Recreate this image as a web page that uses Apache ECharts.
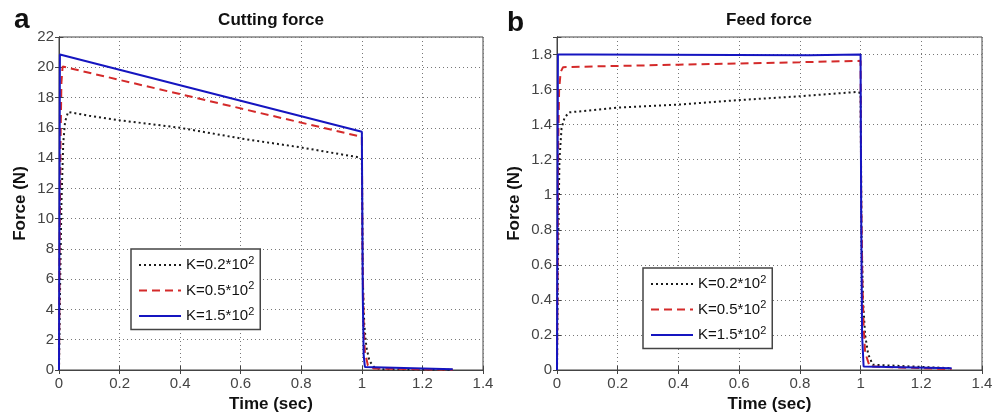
<!DOCTYPE html>
<html>
<head>
<meta charset="utf-8">
<script src="https://cdn.jsdelivr.net/npm/echarts@6/dist/echarts.min.js"></script>
<style>
html,body{margin:0;padding:0;background:#fff;}
#main{width:1005px;height:412px;}
</style>
</head>
<body>
<div id="main"></div>
<script>
// ---------- data ----------
const seriesNames = ['K=0.2*10^2', 'K=0.5*10^2', 'K=1.5*10^2'];
const xTicks = [0, 0.2, 0.4, 0.6, 0.8, 1, 1.2, 1.4];
const cutYTicks = [0, 2, 4, 6, 8, 10, 12, 14, 16, 18, 20, 22];
const feedYTicks = [0, 0.2, 0.4, 0.6, 0.8, 1, 1.2, 1.4, 1.6, 1.8];

// Cutting force (a)
const cutT_K02 = [0, 0.004, 0.008, 0.014, 0.02, 0.03, 0.1, 0.2, 0.4, 0.6, 0.8, 0.99, 1.0, 1.003, 1.008, 1.015, 1.025, 1.04, 1.06, 1.3];
const cutF_K02 = [0, 6, 11, 15, 16.4, 17.05, 16.8, 16.5, 16.0, 15.3, 14.7, 14.05, 13.9, 6, 3, 1.5, 0.6, 0.2, 0.05, 0.02];
const cutT_K05 = [0, 0.002, 0.005, 0.008, 0.012, 1.0, 1.002, 1.006, 1.01, 1.02, 1.04, 1.3];
const cutF_K05 = [0, 8, 15, 19, 20.05, 15.4, 8, 3, 1.2, 0.3, 0.1, 0.02];
const cutT_K15 = [0, 0.003, 1.0, 1.001, 1.003, 1.006, 1.01, 1.3];
const cutF_K15 = [0, 20.85, 15.74, 12, 5, 1, 0.2, 0.05];

// Feed force (b)
const feedT_K02 = [0, 0.003, 0.008, 0.015, 0.025, 0.04, 0.1, 0.2, 0.4, 0.6, 0.8, 0.99, 1.0, 1.003, 1.008, 1.015, 1.025, 1.04, 1.3];
const feedF_K02 = [0, 0.6, 1.2, 1.38, 1.44, 1.47, 1.48, 1.497, 1.514, 1.54, 1.562, 1.587, 1.58, 0.8, 0.4, 0.2, 0.09, 0.03, 0.01];
const feedT_K05 = [0, 0.002, 0.004, 0.007, 0.012, 0.02, 0.2, 0.4, 0.6, 0.8, 1.0, 1.002, 1.006, 1.01, 1.015, 1.03, 1.3];
const feedF_K05 = [0, 0.6, 1.3, 1.6, 1.7, 1.728, 1.735, 1.742, 1.749, 1.756, 1.764, 1.0, 0.5, 0.25, 0.1, 0.02, 0.005];
const feedT_K15 = [0, 0.003, 0.1, 0.1, 0.83, 0.83, 1.0, 1.002, 1.005, 1.01, 1.3];
const feedF_K15 = [0, 1.8, 1.8, 1.796, 1.796, 1.8, 1.8, 0.9, 0.2, 0.02, 0.01];

// ---------- build ----------
const zip = (t, v) => t.map((x, i) => [x, v[i]]);
const FONT = "'Liberation Sans', Arial, sans-serif";
const styles = [
  { color: '#1a1a1a', type: [2, 3], width: 2 },
  { color: '#d42a2a', type: [8, 5], width: 2 },
  { color: '#1515c0', type: 'solid', width: 2 }
];
function mkSeries(name, idx, data, st) {
  return {
    type: 'line', name: name, xAxisIndex: idx, yAxisIndex: idx, data: data,
    showSymbol: false, symbol: 'none', animation: false,
    lineStyle: { color: st.color, type: st.type, width: st.width },
    itemStyle: { color: st.color }
  };
}
const gridBase = { top: 37, height: 333, show: true, borderColor: '#444', borderWidth: 1, backgroundColor: '#fff', containLabel: false, outerBoundsMode: 'none' };
const grids = [
  Object.assign({ left: 59, width: 424 }, gridBase),
  Object.assign({ left: 557, width: 425 }, gridBase)
];
const splitLine = { show: true, lineStyle: { color: '#777', type: [1, 3], width: 1 } };
const tick = { show: true, inside: true, length: 4, lineStyle: { color: '#444' } };
const axisLine = { show: true, lineStyle: { color: '#444', width: 1 } };
const labelStyle = { color: '#444', fontSize: 15, fontFamily: FONT };
const nameStyle = { color: '#111', fontSize: 17, fontWeight: 'bold', fontFamily: FONT };

function xAx(gi) {
  return {
    type: 'value', gridIndex: gi, min: xTicks[0], max: xTicks[xTicks.length - 1], interval: xTicks[1] - xTicks[0],
    name: 'Time (sec)', nameLocation: 'middle', nameGap: 25, nameTextStyle: nameStyle,
    axisLine: axisLine, axisTick: tick, splitLine: splitLine,
    axisLabel: Object.assign({ margin: 6 }, labelStyle)
  };
}
function xTop(gi) {
  return {
    type: 'value', gridIndex: gi, position: 'top', min: xTicks[0], max: xTicks[xTicks.length - 1], interval: xTicks[1] - xTicks[0],
    axisLine: axisLine, axisTick: tick, splitLine: { show: false }, axisLabel: { show: false }
  };
}
function yAx(gi, ticks, max, gap) {
  return {
    type: 'value', gridIndex: gi, min: ticks[0], max: max, interval: ticks[1] - ticks[0],
    name: 'Force (N)', nameLocation: 'middle', nameGap: gap, nameTextStyle: nameStyle,
    axisLine: axisLine, axisTick: tick, splitLine: splitLine,
    axisLabel: Object.assign({
      margin: 5,
      formatter: v => (ticks.some(t => Math.abs(t - v) < 1e-9) ? String(+v.toFixed(2)) : '')
    }, labelStyle)
  };
}
function yRight(gi, ticks, max) {
  return {
    type: 'value', gridIndex: gi, position: 'right', min: ticks[0], max: max, interval: ticks[1] - ticks[0],
    axisLine: axisLine, axisTick: tick, splitLine: { show: false }, axisLabel: { show: false }
  };
}

const legendFormatter = name => {
  const m = name.split('^');
  return m[0] + '{sup|' + m[1] + '}';
};
function mkLegend(left, top) {
  return {
    left: left, top: top, orient: 'vertical',
    data: seriesNames,
    itemWidth: 42, itemHeight: 18, itemGap: 8,
    padding: [6, 6, 6, 7],
    backgroundColor: '#fff', borderColor: '#444', borderWidth: 1.5,
    selectedMode: false,
    itemStyle: { color: 'rgba(0,0,0,0)', opacity: 0, borderWidth: 0 },
    formatter: legendFormatter,
    textStyle: {
      color: '#111', fontSize: 15, fontFamily: FONT,
      rich: { sup: { fontSize: 11, fontFamily: FONT, color: '#111', padding: [0, 0, 9, 0] } }
    }
  };
}

const option = {
  animation: false,
  backgroundColor: '#fff',
  grid: grids,
  xAxis: [xAx(0), xAx(1), xTop(0), xTop(1)],
  yAxis: [yAx(0, cutYTicks, 22, 30), yAx(1, feedYTicks, 1.9, 34), yRight(0, cutYTicks, 22), yRight(1, feedYTicks, 1.9)],
  legend: [mkLegend(131, 249), mkLegend(643, 268)],
  series: [
    mkSeries(seriesNames[0], 0, zip(cutT_K02, cutF_K02), styles[0]),
    mkSeries(seriesNames[1], 0, zip(cutT_K05, cutF_K05), styles[1]),
    mkSeries(seriesNames[2], 0, zip(cutT_K15, cutF_K15), styles[2]),
    mkSeries(seriesNames[0], 1, zip(feedT_K02, feedF_K02), styles[0]),
    mkSeries(seriesNames[1], 1, zip(feedT_K05, feedF_K05), styles[1]),
    mkSeries(seriesNames[2], 1, zip(feedT_K15, feedF_K15), styles[2])
  ],
  graphic: [
    { type: 'text', left: 14, top: 6, style: { text: 'a', font: 'bold 28px ' + FONT, fill: '#111' } },
    { type: 'text', left: 507, top: 9, style: { text: 'b', font: 'bold 28px ' + FONT, fill: '#111' } },
    { type: 'text', x: 271, y: 20, style: { text: 'Cutting force', font: 'bold 17px ' + FONT, fill: '#111', align: 'center', verticalAlign: 'middle' } },
    { type: 'text', x: 769, y: 20, style: { text: 'Feed force', font: 'bold 17px ' + FONT, fill: '#111', align: 'center', verticalAlign: 'middle' } }
  ]
};
const chart = echarts.init(document.getElementById('main'), null, { renderer: 'canvas' });
chart.setOption(option);
</script>
</body>
</html>
